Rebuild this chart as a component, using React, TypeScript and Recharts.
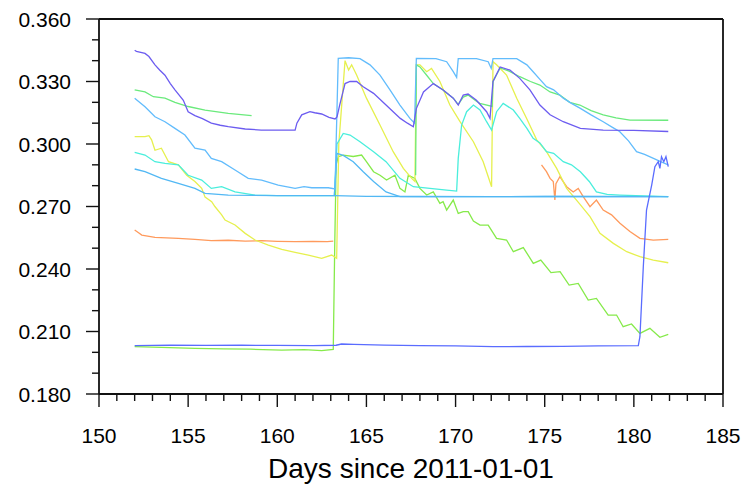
import { LineChart, Line, XAxis, YAxis } from "recharts";

// axis ticks
const X_MAJOR = [150, 155, 160, 165, 170, 175, 180, 185];
const X_TICKS = [
  150, 151, 152, 153, 154, 155, 156, 157, 158, 159, 160, 161, 162, 163, 164, 165, 166, 167,
  168, 169, 170, 171, 172, 173, 174, 175, 176, 177, 178, 179, 180, 181, 182, 183, 184, 185,
];
const Y_MAJOR = [0.18, 0.21, 0.24, 0.27, 0.3, 0.33, 0.36];
const Y_TICKS = [
  0.18, 0.19, 0.2, 0.21, 0.22, 0.23, 0.24, 0.25, 0.26, 0.27, 0.28, 0.29, 0.3, 0.31, 0.32,
  0.33, 0.34, 0.35, 0.36,
];
const Y_LABELS = ["0.180", "0.210", "0.240", "0.270", "0.300", "0.330", "0.360"];

// series: [day, value]; null value = gap
const lime: [number, number | null][] = [
  [152.0, 0.2027], [153.5, 0.2024], [155.38, 0.2019], [157.0, 0.2017], [158.5, 0.2015],
  [160.25, 0.2011], [161.5, 0.2013], [162.49, 0.2008], [163.14, 0.2014], [163.22, 0.25],
  [163.3, 0.29], [163.42, 0.2939], [163.7, 0.2947], [164.26, 0.294], [164.73, 0.2947],
  [165.0, 0.2915], [165.4, 0.2867], [165.76, 0.285], [166.13, 0.2827], [166.6, 0.285],
  [166.88, 0.2787], [167.16, 0.277], [167.35, 0.285], [167.72, 0.2835], [168.0, 0.2787],
  [168.38, 0.2755], [168.75, 0.277], [169.12, 0.2715], [169.3, 0.2723], [169.5, 0.2683],
  [169.87, 0.2731], [170.15, 0.2667], [170.43, 0.2675], [170.71, 0.2675], [171.0, 0.263],
  [171.37, 0.2611], [171.83, 0.2611], [172.3, 0.2547], [172.86, 0.2539], [173.24, 0.2483],
  [173.8, 0.2503], [174.36, 0.2427], [174.78, 0.2443], [175.35, 0.2383], [175.86, 0.2387],
  [176.37, 0.2323], [176.88, 0.2331], [177.44, 0.2251], [177.9, 0.2259], [178.56, 0.2179],
  [179.03, 0.2179], [179.4, 0.2123], [179.87, 0.2136], [180.34, 0.2091], [180.9, 0.2115],
  [181.46, 0.2072], [181.93, 0.2086],
];
const orange: [number, number | null][] = [
  [152.0, 0.2587], [152.2, 0.2575], [152.4, 0.2563], [153.14, 0.2552], [154.45, 0.2547],
  [155.38, 0.2542], [156.3, 0.2536], [157.25, 0.2538], [158.2, 0.2534], [159.12, 0.2536],
  [160.0, 0.2533], [161.0, 0.2531], [162.0, 0.2533], [162.8, 0.2531], [163.14, 0.2534],
  [169.0, null],
  [174.82, 0.29], [175.1, 0.2867], [175.3, 0.2835], [175.48, 0.282], [175.57, 0.2731],
  [175.63, 0.281], [175.85, 0.2843], [176.23, 0.2795], [176.6, 0.277], [176.88, 0.2787],
  [177.16, 0.2747], [177.54, 0.2699], [177.9, 0.2731], [178.28, 0.2683], [178.75, 0.266],
  [179.22, 0.262], [179.78, 0.258], [180.34, 0.2547], [181.09, 0.2539], [181.93, 0.2542],
];
const yellow: [number, number | null][] = [
  [152.0, 0.3035], [152.58, 0.3035], [152.8, 0.304], [152.95, 0.302], [153.14, 0.297],
  [153.5, 0.298], [153.9, 0.2915], [154.45, 0.29], [154.92, 0.285], [155.38, 0.282],
  [155.76, 0.2787], [155.95, 0.2745], [156.32, 0.2723], [156.5, 0.27], [156.88, 0.266],
  [157.07, 0.2635], [157.63, 0.2611], [158.2, 0.2571], [158.75, 0.2539], [159.5, 0.2515],
  [160.25, 0.2494], [161.0, 0.248], [161.74, 0.2467], [162.49, 0.2451], [163.05, 0.2467],
  [163.33, 0.2451], [163.45, 0.3], [163.8, 0.34], [164.0, 0.3355], [164.17, 0.338],
  [164.45, 0.3331], [165.0, 0.322], [165.76, 0.3091], [166.5, 0.2963], [167.07, 0.2883],
  [167.54, 0.2835], [167.72, 0.282], [167.8, 0.338], [168.0, 0.338], [168.38, 0.3347],
  [168.65, 0.3363], [169.12, 0.33], [169.68, 0.3187], [170.25, 0.3107], [171.0, 0.3011],
  [171.55, 0.2915], [172.02, 0.2795], [172.1, 0.3395], [172.3, 0.338], [172.86, 0.3331],
  [173.43, 0.322], [174.0, 0.312], [174.55, 0.302], [175.1, 0.2963], [175.67, 0.2883],
  [176.23, 0.2787], [176.97, 0.2711], [177.54, 0.2651], [178.1, 0.2571], [178.85, 0.2523],
  [179.6, 0.2483], [180.34, 0.2459], [181.09, 0.2443], [181.93, 0.243],
];
const green: [number, number | null][] = [
  [152.0, 0.326], [152.58, 0.325], [153.05, 0.3227], [153.7, 0.322], [154.26, 0.32],
  [155.0, 0.318], [155.95, 0.3163], [157.25, 0.3147], [158.56, 0.3136],
  [163.0, null],
  [167.76, 0.285], [167.8, 0.338], [168.0, 0.337], [168.38, 0.333], [168.75, 0.329],
  [169.3, 0.3259], [169.87, 0.322], [170.15, 0.319], [170.43, 0.3225], [170.7, 0.3235],
  [171.17, 0.3205], [171.36, 0.3195], [171.7, 0.3188], [172.05, 0.318], [172.1, 0.33],
  [172.5, 0.3365], [173.0, 0.335], [173.6, 0.3323], [174.2, 0.33], [174.73, 0.3283],
  [175.3, 0.325], [175.85, 0.3235], [176.4, 0.32], [176.97, 0.3187], [177.6, 0.316],
  [178.28, 0.314], [179.0, 0.3125], [179.78, 0.3115], [181.93, 0.3114],
];
const cyan: [number, number | null][] = [
  [152.0, 0.296], [152.58, 0.2947], [153.14, 0.2915], [153.7, 0.2907], [154.45, 0.29],
  [155.0, 0.285], [155.76, 0.2827], [156.3, 0.2787], [156.88, 0.2795], [157.63, 0.277],
  [158.75, 0.2755], [160.0, 0.2752], [161.5, 0.2752], [163.2, 0.2752], [163.35, 0.3],
  [163.7, 0.3051], [164.08, 0.3043], [164.64, 0.3011], [165.4, 0.2963], [166.1, 0.2915],
  [166.88, 0.2835], [167.63, 0.2795], [168.56, 0.2787], [169.5, 0.2779], [170.06, 0.2774],
  [170.15, 0.2931], [170.34, 0.3091], [170.62, 0.3155], [171.0, 0.3187], [171.37, 0.3163],
  [171.74, 0.3107], [172.02, 0.3067], [172.3, 0.3155], [172.67, 0.3195], [173.24, 0.3163],
  [173.6, 0.3123], [174.0, 0.3075], [174.35, 0.3027], [174.73, 0.3005], [175.1, 0.2963],
  [175.5, 0.2955], [176.04, 0.2915], [176.5, 0.29], [177.0, 0.2867], [177.5, 0.282],
  [177.9, 0.277], [178.5, 0.2758], [179.22, 0.2755], [181.93, 0.2747],
];
const lowerBlue: [number, number | null][] = [
  [152.0, 0.288], [152.58, 0.2867], [153.5, 0.2835], [154.45, 0.2811], [155.38, 0.2787],
  [155.95, 0.2763], [157.25, 0.2755], [160.0, 0.2752], [163.2, 0.2752], [163.35, 0.2955],
  [163.7, 0.2945], [164.26, 0.2915], [164.82, 0.2867], [165.4, 0.282], [166.1, 0.277],
  [166.88, 0.2747], [170.0, 0.2747], [175.0, 0.2748], [181.93, 0.2747],
];
const flatBlue: [number, number | null][] = [
  [163.2, 0.2752], [165.0, 0.2749], [168.0, 0.2748], [172.0, 0.2747], [176.0, 0.2748],
  [181.93, 0.2747],
];
const upperBlue: [number, number | null][] = [
  [152.0, 0.322], [152.58, 0.3179], [153.14, 0.3131], [153.7, 0.3107], [154.26, 0.3075],
  [154.82, 0.3043], [155.38, 0.298], [155.95, 0.2971], [156.3, 0.2931], [156.88, 0.2915],
  [157.63, 0.2875], [158.37, 0.2835], [159.12, 0.2827], [160.05, 0.2803], [161.0, 0.2787],
  [161.5, 0.2795], [161.93, 0.279], [162.86, 0.279], [163.24, 0.2784], [163.3, 0.3],
  [163.42, 0.3411], [164.0, 0.3414], [164.64, 0.341], [165.2, 0.338], [165.76, 0.3331],
  [166.32, 0.326], [166.88, 0.3187], [167.44, 0.3123], [167.7, 0.31], [167.8, 0.3411],
  [168.9, 0.341], [169.5, 0.3395], [169.87, 0.3347], [170.06, 0.332], [170.15, 0.341],
  [171.17, 0.341], [171.83, 0.3395], [172.0, 0.3363], [172.1, 0.341], [173.43, 0.341],
  [174.0, 0.338], [174.35, 0.3347], [174.73, 0.331], [175.1, 0.3275], [175.5, 0.326],
  [176.04, 0.322], [176.5, 0.3195], [177.0, 0.3171], [177.6, 0.314], [178.28, 0.3107],
  [178.8, 0.308], [179.2, 0.306], [179.7, 0.3015], [180.15, 0.2963], [180.6, 0.295],
  [181.1, 0.2931], [181.5, 0.2915], [181.93, 0.29],
];
const purple: [number, number | null][] = [
  [152.0, 0.345], [152.1, 0.3445], [152.58, 0.3435], [152.8, 0.342], [153.14, 0.338],
  [153.4, 0.3355], [153.7, 0.333], [154.0, 0.329], [154.26, 0.326], [154.73, 0.321],
  [155.0, 0.3155], [155.38, 0.3136], [155.8, 0.3122], [156.3, 0.31], [156.8, 0.309],
  [157.25, 0.3083], [158.2, 0.3072], [159.1, 0.3067], [160.0, 0.3067], [161.0, 0.3067],
  [161.1, 0.31], [161.37, 0.314], [161.83, 0.3155], [162.1, 0.315], [162.49, 0.3144],
  [162.9, 0.3128], [163.24, 0.312], [163.35, 0.313], [163.5, 0.3187], [163.8, 0.329],
  [164.08, 0.33], [164.45, 0.33], [164.82, 0.3275], [165.4, 0.3243], [166.1, 0.3187],
  [166.5, 0.3155], [166.9, 0.3123], [167.3, 0.31], [167.63, 0.3083], [167.8, 0.317],
  [168.2, 0.325], [168.75, 0.329], [169.3, 0.3259], [169.87, 0.322], [170.15, 0.3187],
  [170.43, 0.3235], [170.7, 0.324], [171.17, 0.321], [171.74, 0.3155], [171.93, 0.3123],
  [172.1, 0.33], [172.5, 0.337], [173.05, 0.3355], [173.6, 0.3315], [174.17, 0.326],
  [174.73, 0.3187], [175.3, 0.314], [176.04, 0.3107], [177.0, 0.3075], [178.28, 0.3067],
  [180.0, 0.3065], [181.93, 0.306],
];
const bottomBlue: [number, number | null][] = [
  [152.0, 0.2032], [154.0, 0.2035], [156.0, 0.2033], [158.0, 0.2034], [160.0, 0.2033],
  [162.0, 0.2032], [163.3, 0.2034], [163.6, 0.204], [164.3, 0.2038], [166.0, 0.2035],
  [168.0, 0.2032], [170.0, 0.2031], [172.1, 0.2027], [174.0, 0.2028], [176.0, 0.2029],
  [178.0, 0.2031], [180.25, 0.2032], [180.34, 0.2075], [180.53, 0.2411], [180.71, 0.2683],
  [180.8, 0.272], [181.0, 0.2803], [181.18, 0.2891], [181.37, 0.2915], [181.46, 0.2883],
  [181.55, 0.2939], [181.68, 0.2915], [181.8, 0.2939], [181.93, 0.2891],
];

const SERIES = [
  { name: "lime", pts: lime, color: "#86ea4a" },
  { name: "orange", pts: orange, color: "#ff9a5c" },
  { name: "yellow", pts: yellow, color: "#e6f04e" },
  { name: "green", pts: green, color: "#6aea7c" },
  { name: "cyan", pts: cyan, color: "#4aeedc" },
  { name: "lowerBlue", pts: lowerBlue, color: "#52b8f4" },
  { name: "flatBlue", pts: flatBlue, color: "#52b8f4" },
  { name: "upperBlue", pts: upperBlue, color: "#62bcfc" },
  { name: "purple", pts: purple, color: "#6c5cf0" },
  { name: "bottomBlue", pts: bottomBlue, color: "#5a6cff" },
];

const FONT = "'Liberation Sans', Arial, Helvetica, sans-serif";
const INK = "#111";

const isMajorX = (v: number) => X_MAJOR.includes(v);
const isMajorY = (v: number) => Y_MAJOR.some((m) => Math.abs(m - v) < 1e-6);

function BottomTick({ x, y, payload }: any) {
  const major = isMajorX(payload.value);
  return (
    <g>
      <line x1={x} x2={x} y1={y} y2={y + (major ? 13 : 7)} stroke={INK} strokeWidth={1.4} />
      {major && (
        <text x={x} y={y + 49} textAnchor="middle" fontSize={21} fontFamily={FONT} fill="#000">
          {payload.value}
        </text>
      )}
    </g>
  );
}

function TopTick({ x, y, payload }: any) {
  const major = isMajorX(payload.value);
  return <line x1={x} x2={x} y1={y} y2={y - (major ? 13 : 7)} stroke={INK} strokeWidth={1.4} />;
}

function LeftTick({ x, y, payload }: any) {
  const major = isMajorY(payload.value);
  const idx = Y_MAJOR.findIndex((m) => Math.abs(m - payload.value) < 1e-6);
  return (
    <g>
      <line x1={x} x2={x - (major ? 13 : 7)} y1={y} y2={y} stroke={INK} strokeWidth={1.4} />
      {major && (
        <text x={x - 28} y={y} dy="0.36em" textAnchor="end" fontSize={21} fontFamily={FONT} fill="#000">
          {Y_LABELS[idx]}
        </text>
      )}
    </g>
  );
}

function RightTick({ x, y, payload }: any) {
  const major = isMajorY(payload.value);
  return <line x1={x} x2={x + (major ? 13 : 7)} y1={y} y2={y} stroke={INK} strokeWidth={1.4} />;
}

export default function App() {
  return (
    <div style={{ width: 743, height: 487, background: "#fff", fontFamily: FONT }}>
      <style>{"body{margin:0}"}</style>
      <LineChart width={743} height={487} margin={{ top: 0, right: 0, bottom: 0, left: 0 }}>
        <XAxis
          xAxisId="bottom"
          dataKey="x"
          type="number"
          domain={[150, 185]}
          ticks={X_TICKS}
          interval={0}
          height={93}
          tickSize={0}
          tickMargin={0}
          tickLine={false}
          tick={<BottomTick />}
          axisLine={{ stroke: INK, strokeWidth: 1.8 }}
          label={{
            value: "Days since 2011-01-01",
            position: "insideBottom",
            offset: 9,
            fontSize: 28,
            fontFamily: FONT,
            fill: "#000",
          }}
        />
        <XAxis
          xAxisId="top"
          orientation="top"
          dataKey="x"
          type="number"
          domain={[150, 185]}
          ticks={X_TICKS}
          interval={0}
          height={19}
          tickSize={0}
          tickMargin={0}
          tickLine={false}
          tick={<TopTick />}
          axisLine={{ stroke: INK, strokeWidth: 1.8 }}
        />
        <YAxis
          yAxisId="left"
          type="number"
          domain={[0.18, 0.36]}
          ticks={Y_TICKS}
          interval={0}
          width={99}
          tickSize={0}
          tickMargin={0}
          tickLine={false}
          tick={<LeftTick />}
          axisLine={{ stroke: INK, strokeWidth: 1.8 }}
        />
        <YAxis
          yAxisId="right"
          orientation="right"
          type="number"
          domain={[0.18, 0.36]}
          ticks={Y_TICKS}
          interval={0}
          width={20}
          tickSize={0}
          tickMargin={0}
          tickLine={false}
          tick={<RightTick />}
          axisLine={{ stroke: INK, strokeWidth: 1.8 }}
        />
        {SERIES.map((s) => (
          <Line
            key={s.name}
            xAxisId="bottom"
            yAxisId="left"
            data={s.pts.map(([x, y]) => ({ x, y }))}
            dataKey="y"
            stroke={s.color}
            strokeWidth={1.3}
            dot={false}
            activeDot={false}
            isAnimationActive={false}
          />
        ))}
      </LineChart>
    </div>
  );
}
